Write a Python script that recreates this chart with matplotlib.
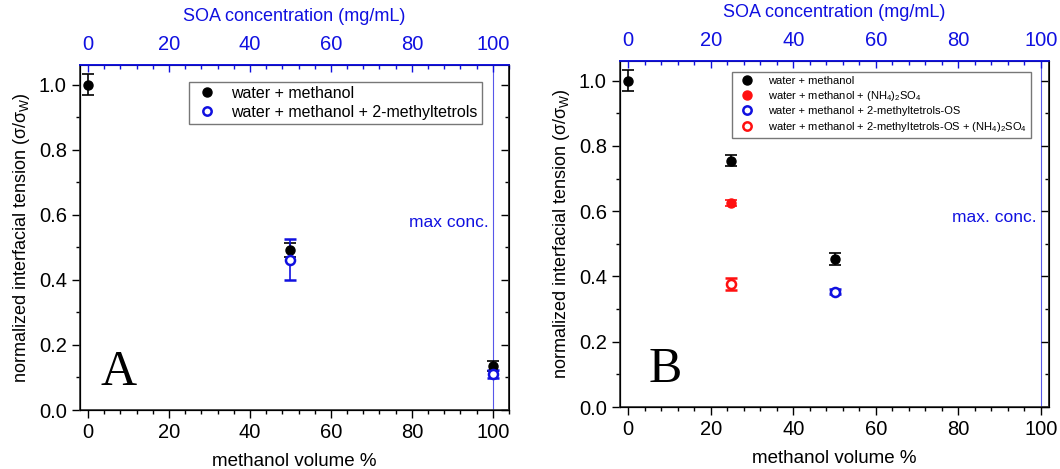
import matplotlib.pyplot as plt
from matplotlib.ticker import MultipleLocator
from matplotlib.lines import Line2D

plt.rcParams['font.family'] = ['Liberation Sans', 'DejaVu Sans']
plt.rcParams['mathtext.fontset'] = 'custom'
plt.rcParams['mathtext.rm'] = 'Liberation Sans'
plt.rcParams['mathtext.it'] = 'Liberation Sans'

BLUE = '#1010e0'
RED = '#ff1010'

# Panel A data
a_x_meoh = [0, 50, 100]
a_y_meoh = [1.0, 0.492, 0.135]
a_e_meoh = [0.033, 0.022, 0.015]
a_x_mt = [50, 100]
a_y_mt = [0.462, 0.110]
a_e_mt = [0.063, 0.012]

# Panel B data
b_x_meoh = [0, 25, 50]
b_y_meoh = [1.0, 0.755, 0.453]
b_e_meoh = [0.033, 0.018, 0.018]
b_x_as = [25]
b_y_as = [0.625]
b_e_as = [0.010]
b_x_os = [50]
b_y_os = [0.353]
b_e_os = [0.008]
b_x_osas = [25]
b_y_osas = [0.377]
b_e_osas = [0.018]

fig = plt.figure(figsize=(10.6, 4.69), dpi=100)
axA = fig.add_axes([80/1060, 59/469, 429/1060, 345/469])
axB = fig.add_axes([620/1060, 62/469, 429/1060, 346/469])


def style_axes(ax, xmax, conc_text, conc_y):
    ax.set_xlim(-2, xmax)
    ax.set_ylim(0, 1.06)
    ax.xaxis.set_major_locator(MultipleLocator(20))
    ax.xaxis.set_minor_locator(MultipleLocator(4))
    ax.yaxis.set_major_locator(MultipleLocator(0.2))
    ax.yaxis.set_minor_locator(MultipleLocator(0.1))
    ax.tick_params(axis='both', which='major', labelsize=14.5, direction='out', length=6, width=1)
    ax.tick_params(axis='both', which='minor', direction='out', length=3, width=1)
    ax.tick_params(axis='x', which='both', top=False)
    ax.set_yticks([0, 0.2, 0.4, 0.6, 0.8, 1.0])
    ax.set_yticklabels(['0.0', '0.2', '0.4', '0.6', '0.8', '1.0'])
    for s in ax.spines.values():
        s.set_linewidth(1.2)
        s.set_color('#333333')
    ax.spines['top'].set_color(BLUE)
    ax.set_xlabel('methanol volume %', fontsize=13.5, labelpad=8)
    ax.set_ylabel(r'normalized interfacial tension ($\sigma/\sigma_\mathrm{W}$)', fontsize=13, labelpad=5)
    ax.axvline(100, color=BLUE, lw=0.8, alpha=0.7)
    ax.text(99, conc_y, conc_text, color=BLUE, fontsize=12.5, ha='right', va='center')

    right = ax.twinx()
    right.set_ylim(ax.get_ylim())
    right.yaxis.set_major_locator(MultipleLocator(0.2))
    right.yaxis.set_minor_locator(MultipleLocator(0.1))
    right.tick_params(axis='y', which='major', direction='in', length=6, width=1, labelright=False)
    right.tick_params(axis='y', which='minor', direction='in', length=3, width=1)
    right.spines['right'].set_color('#333333')
    right.spines['right'].set_linewidth(1.2)

    top = ax.twiny()
    top.set_xlim(ax.get_xlim())
    top.xaxis.set_major_locator(MultipleLocator(20))
    top.xaxis.set_minor_locator(MultipleLocator(4))
    top.tick_params(axis='x', which='major', colors=BLUE, labelsize=14.5, direction='in',
                    length=5, width=1, pad=8)
    top.tick_params(axis='x', which='minor', colors=BLUE, direction='in', length=3, width=1)
    top.tick_params(axis='y', which='both', left=False, right=False, labelleft=False, labelright=False)
    top.spines['top'].set_color(BLUE)
    top.spines['top'].set_linewidth(1.2)
    top.set_xlabel('SOA concentration (mg/mL)', color=BLUE, fontsize=13, labelpad=10)


style_axes(axA, 104, 'max conc.', 0.575)
style_axes(axB, 102, 'max. conc.', 0.58)

ek = dict(capsize=4, elinewidth=1.2, capthick=1.2, ls='none', markersize=6.5)
axA.errorbar(a_x_meoh, a_y_meoh, yerr=a_e_meoh, fmt='o', color='black', **ek)
axA.errorbar(a_x_mt, a_y_mt, yerr=a_e_mt, fmt='o', color=BLUE, mfc='white', mew=1.8, **ek)

hA = [Line2D([], [], ls='none', marker='o', color='black', markersize=6.5),
      Line2D([], [], ls='none', marker='o', color=BLUE, mfc='white', mew=1.8, markersize=6)]
axA.legend(hA, ['water + methanol', 'water + methanol + 2-methyltetrols'],
           loc='upper right', bbox_to_anchor=(0.955, 0.975), fontsize=11.5, frameon=True, fancybox=False,
           edgecolor='#555555', handletextpad=0.6, borderpad=0.25, labelspacing=0.25,
           handlelength=1.8).get_frame().set_linewidth(1.0)
axA.text(3, 0.115, 'A', fontsize=36, family='Liberation Serif', va='center', ha='left')

axB.errorbar(b_x_meoh, b_y_meoh, yerr=b_e_meoh, fmt='o', color='black', **ek)
axB.errorbar(b_x_as, b_y_as, yerr=b_e_as, fmt='o', color=RED, **ek)
axB.errorbar(b_x_os, b_y_os, yerr=b_e_os, fmt='o', color=BLUE, mfc='white', mew=1.8, **ek)
axB.errorbar(b_x_osas, b_y_osas, yerr=b_e_osas, fmt='o', color=RED, mfc='white', mew=1.8, **ek)

hB = [Line2D([], [], ls='none', marker='o', color='black', markersize=6.5),
      Line2D([], [], ls='none', marker='o', color=RED, markersize=6.5),
      Line2D([], [], ls='none', marker='o', color=BLUE, mfc='white', mew=1.8, markersize=6),
      Line2D([], [], ls='none', marker='o', color=RED, mfc='white', mew=1.8, markersize=6)]
axB.legend(hB, ['water + methanol',
                r'water + methanol + (NH$_4$)$_2$SO$_4$',
                'water + methanol + 2-methyltetrols-OS',
                r'water + methanol + 2-methyltetrols-OS + (NH$_4$)$_2$SO$_4$'],
           loc='upper right', bbox_to_anchor=(0.97, 0.985), fontsize=8.0, frameon=True, fancybox=False,
           edgecolor='#555555', handletextpad=0.9, borderpad=0.35, labelspacing=0.3,
           handlelength=2.0).get_frame().set_linewidth(1.0)
axB.text(5, 0.115, 'B', fontsize=36, family='Liberation Serif', va='center', ha='left')

fig.savefig('out.png', dpi=100)
